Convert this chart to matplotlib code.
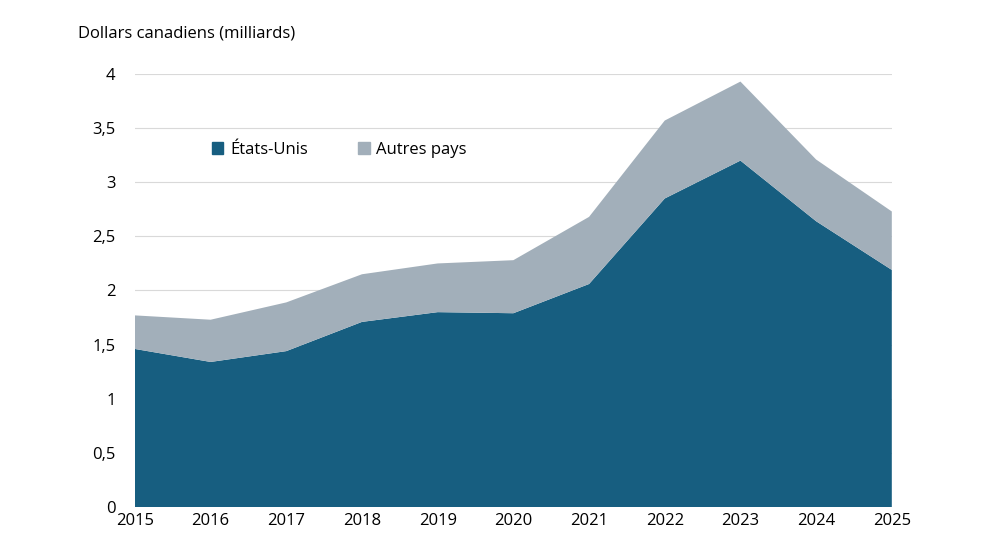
import matplotlib
matplotlib.use("Agg")
import matplotlib.pyplot as plt
from matplotlib.patches import Patch

years = [2015, 2016, 2017, 2018, 2019, 2020, 2021, 2022, 2023, 2024, 2025]
us = [1.46, 1.34, 1.44, 1.71, 1.80, 1.79, 2.06, 2.85, 3.20, 2.64, 2.19]
total = [1.77, 1.73, 1.89, 2.15, 2.25, 2.28, 2.68, 3.57, 3.93, 3.21, 2.73]
others = [t - u for t, u in zip(total, us)]
yticks = [0, 0.5, 1, 1.5, 2, 2.5, 3, 3.5, 4]
ylabels = ["0", "0,5", "1", "1,5", "2", "2,5", "3", "3,5", "4"]

plt.rcParams['font.family'] = ['Open Sans', 'DejaVu Sans']
fig = plt.figure(figsize=(9.92, 5.58), dpi=100)
ax = fig.add_axes([0.136, 0.0914, 0.763, 0.776])
c_us, c_ot = "#175E80", "#A2AFBA"
ax.stackplot(years, us, others, colors=[c_us, c_ot], linewidth=0)
ax.set_xlim(2015, 2025)
ax.set_ylim(0, 4)
ax.set_yticks(yticks)
ax.set_yticklabels(ylabels)
ax.set_xticks(years)
ax.grid(axis='y', color='#D9D9D9', linewidth=0.8)
ax.set_axisbelow(True)
for s in ax.spines.values():
    s.set_visible(False)
ax.tick_params(length=0, labelsize=12, colors='black')
ax.tick_params(axis='y', pad=14)
ax.tick_params(axis='x', pad=4)
fig.text(0.079, 0.94, "Dollars canadiens (milliards)", fontsize=12, va='center')
ax.legend(handles=[Patch(color=c_us, label="États-Unis"), Patch(color=c_ot, label="Autres pays")],
          loc='center', bbox_to_anchor=(0.27, 0.825), ncol=2, frameon=False, fontsize=12,
          handlelength=0.7, handleheight=0.7, handletextpad=0.4, columnspacing=3)
fig.savefig("out.png", dpi=100)
